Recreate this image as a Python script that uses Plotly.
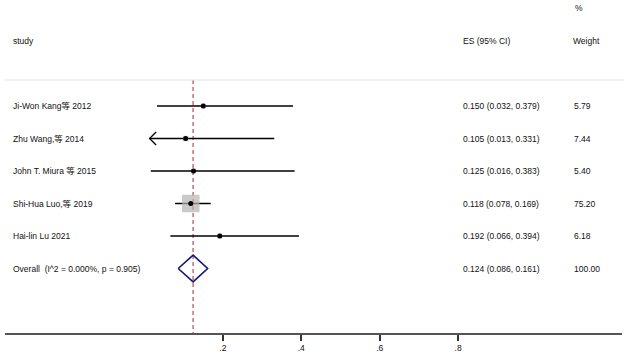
import plotly.graph_objects as go

# ---- data ----
studies = ["Ji-Won Kang等 2012", "Zhu Wang,等 2014", "John T. Miura 等 2015",
           "Shi-Hua Luo,等 2019", "Hai-lin Lu 2021"]
es = [0.150, 0.105, 0.125, 0.118, 0.192]
ci_low = [0.032, 0.013, 0.016, 0.078, 0.066]
ci_high = [0.379, 0.331, 0.383, 0.169, 0.394]
weights = [5.79, 7.44, 5.40, 75.20, 6.18]
overall_label = "Overall\u00a0\u00a0(I^2 = 0.000%, p = 0.905)"
overall_es = 0.124
overall_low = 0.086
overall_high = 0.161
overall_weight = 100.00
arrow_left = [False, True, False, False, False]
tick_vals = [0.2, 0.4, 0.6, 0.8]
tick_text = [".2", ".4", ".6", ".8"]

FONT = "Arial, 'Liberation Sans', 'Noto Sans CJK SC', sans-serif"
FS = 8.5
W, H = 624, 359
MB = 25
x_range = [-144.5 / 392, (W - 144.5) / 392]
row0, rowstep = 106, 32.5
y_range = [(H - MB - row0) / rowstep, -row0 / rowstep]

n = len(studies)
rows = list(range(n))
overall_row = n

fig = go.Figure()

# CI lines
lx, ly = [], []
for i in rows:
    lx += [ci_low[i], ci_high[i], None]
    ly += [i, i, None]
fig.add_trace(go.Scatter(x=lx, y=ly, mode="lines",
                         line=dict(color="black", width=1.6),
                         hoverinfo="skip", showlegend=False))

# arrowheads for clipped CIs
ax, ay = [], []
for i in rows:
    if arrow_left[i]:
        dx = 6.5 / 392
        dy = 6.5 / rowstep
        ax += [ci_low[i] + dx, ci_low[i], ci_low[i] + dx, None]
        ay += [i - dy, i, i + dy, None]
fig.add_trace(go.Scatter(x=ax, y=ay, mode="lines",
                         line=dict(color="black", width=1.3),
                         hoverinfo="skip", showlegend=False))

# weight boxes
maxw = max(weights)
fig.add_trace(go.Scatter(x=es, y=rows, mode="markers",
                         marker=dict(symbol="square", color="#b4b4b4",
                                     size=[17.5 * (w / maxw) ** 0.5 for w in weights],
                                     line=dict(width=0)),
                         hoverinfo="skip", showlegend=False))
# point estimates
fig.add_trace(go.Scatter(x=es, y=rows, mode="markers",
                         marker=dict(symbol="circle", color="black", size=5),
                         hoverinfo="skip", showlegend=False))

# overall diamond
dh = 13.3 / rowstep
fig.add_trace(go.Scatter(
    x=[overall_low, overall_es, overall_high, overall_es, overall_low],
    y=[overall_row, overall_row - dh, overall_row, overall_row + dh, overall_row],
    mode="lines", line=dict(color="#14147a", width=1.6),
    hoverinfo="skip", showlegend=False))

# dashed overall line
fig.add_shape(type="line", xref="x", yref="y", x0=overall_es, x1=overall_es,
              y0=-0.8, y1=y_range[0],
              line=dict(color="#c9787c", width=1.6, dash="4px,3px"), layer="below")

# separator under header
fig.add_shape(type="line", xref="paper", yref="y", x0=5 / W, x1=1,
              y0=-0.8, y1=-0.8, line=dict(color="#e3e3e3", width=1))
# axis line
fig.add_shape(type="line", xref="paper", yref="paper", x0=5 / W, x1=622 / W,
              y0=0, y1=0, line=dict(color="#555555", width=2))

def txt(x, y, s):
    fig.add_annotation(x=x / W, xref="paper", y=y, yref="y", text=s,
                       showarrow=False, xanchor="left", yanchor="middle",
                       font=dict(family=FONT, size=FS, color="#111111"))

# headers
txt(11, -2.0, "study")
txt(461, -2.0, "ES (95% CI)")
txt(571, -2.0, "Weight")
txt(573, -3.03, "%")

for i in rows:
    txt(11, i, studies[i])
    txt(461, i, f"{es[i]:.3f} ({ci_low[i]:.3f}, {ci_high[i]:.3f})")
    txt(572, i, f"{weights[i]:.2f}")
txt(11, overall_row, overall_label)
txt(461, overall_row, f"{overall_es:.3f} ({overall_low:.3f}, {overall_high:.3f})")
txt(572, overall_row, f"{overall_weight:.2f}")

fig.update_layout(
    width=W, height=H,
    margin=dict(l=0, r=0, t=0, b=MB, pad=0),
    paper_bgcolor="white", plot_bgcolor="white",
    xaxis=dict(range=x_range, showgrid=False, zeroline=False, showline=False,
               tickmode="array", tickvals=tick_vals, ticktext=tick_text,
               ticks="outside", ticklen=6, tickwidth=1.5, tickcolor="#333333",
               tickfont=dict(family=FONT, size=FS, color="#111111"),
               fixedrange=True),
    yaxis=dict(range=y_range, showgrid=False, zeroline=False, showline=False,
               showticklabels=False, ticks="", fixedrange=True),
    showlegend=False,
)

fig.write_html("out.html", config={"displayModeBar": False},
               post_script="document.body.style.margin='0';document.body.style.overflow='hidden';")
